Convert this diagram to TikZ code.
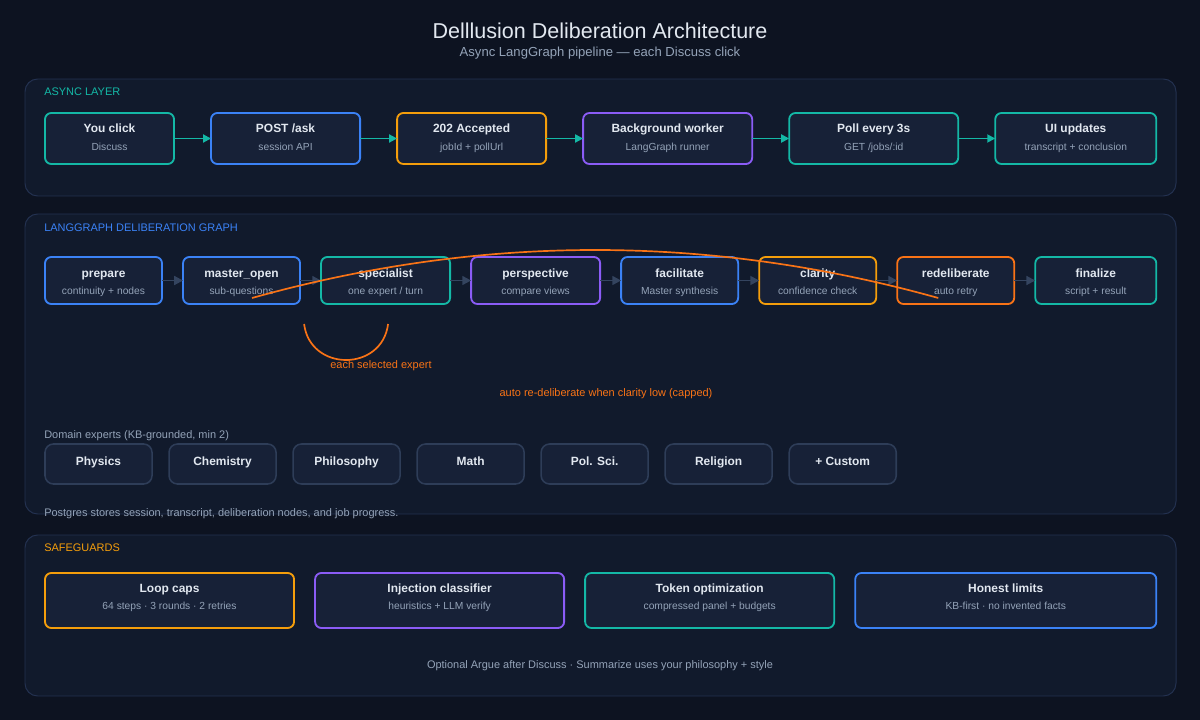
\documentclass[tikz,border=0pt]{standalone}
\usepackage{fontspec}
\setmainfont{Liberation Sans}
\setsansfont{Liberation Sans}
\usepackage{xcolor}
\usepackage{tikz}
\usetikzlibrary{arrows.meta,positioning,calc}

\definecolor{pagebg}{HTML}{0D1321}
\definecolor{panelbg}{HTML}{111A2C}
\definecolor{panelline}{HTML}{233150}
\definecolor{boxbg}{HTML}{172137}
\definecolor{textmain}{HTML}{E2E8F0}
\definecolor{textsub}{HTML}{94A3B8}
\definecolor{tealc}{HTML}{14B8A6}
\definecolor{bluec}{HTML}{3B82F6}
\definecolor{amberc}{HTML}{F59E0B}
\definecolor{purplec}{HTML}{8B5CF6}
\definecolor{orangec}{HTML}{F97316}
\definecolor{slatec}{HTML}{34445F}
\definecolor{expertline}{HTML}{2E3D58}

\tikzset{
  layerpanel/.style={draw=panelline, fill=panelbg, line width=0.7pt, rounded corners=9pt},
  layertitle/.style={anchor=west, inner sep=0pt, font=\fontsize{7.8}{9}\selectfont},
  stagebox/.style={rectangle, draw=#1, fill=boxbg, line width=1.3pt, rounded corners=4.5pt,
    align=center, inner sep=0pt, outer sep=0pt, text=textmain, font=\fontsize{8.5}{12.8}\selectfont},
  expertbox/.style={rectangle, draw=expertline, fill=boxbg, line width=1.1pt, rounded corners=6pt,
    minimum width=2.675cm, minimum height=1cm, inner sep=0pt, outer sep=0pt, text=textmain,
    text height=6pt, text depth=4pt, font=\fontsize{8.5}{10}\selectfont\bfseries},
  flowarrow/.style={-{Triangle[length=2mm,width=2mm]}, draw=tealc, line width=1.3pt},
  graphedge/.style={-{Triangle[length=2.2mm,width=2.2mm]}, draw=slatec, line width=1.4pt},
  loopline/.style={draw=orangec, line width=1.2pt},
  notetext/.style={inner sep=0pt, text=textsub, font=\fontsize{7.8}{9}\selectfont},
}
\newcommand{\stagetext}[2]{\textbf{#1}\\{\fontsize{7.3}{12.8}\selectfont\color{textsub}#2}}

\begin{document}
\begin{tikzpicture}[x=0.025cm, y=-0.025cm,
    asyncstage/.style={stagebox=#1, minimum height=1.275cm, text height=16.4pt, text depth=0pt},
    graphstage/.style={stagebox=#1, minimum height=1.175cm, font=\fontsize{8.5}{11.95}\selectfont,
      text height=19.3pt, text depth=0pt},
    guardbox/.style={stagebox=#1, minimum height=1.375cm, font=\fontsize{8.5}{11.95}\selectfont,
      text height=12.2pt, text depth=0pt}]

  \useasboundingbox (0,0) rectangle (1200,720);
  \fill[pagebg] (0,0) rectangle (1200,720);

  % Title
  \node[text=textmain, font=\fontsize{15.3}{18}\selectfont] (title) at (600,31) {Delllusion Deliberation Architecture};
  \node[text=textsub, font=\fontsize{9.3}{11}\selectfont] (subtitle) at (600,53) {Async LangGraph pipeline — each Discuss click};

  % Layer panels
  \path[layerpanel] (25,79) rectangle (1176,196);
  \path[layerpanel] (25,214) rectangle (1176,514);
  \path[layerpanel] (25,535) rectangle (1176,696);
  \node[layertitle, text=tealc] (asynclabel) at (44,92) {ASYNC LAYER};
  \node[layertitle, text=bluec] (graphlabel) at (44,228) {LANGGRAPH DELIBERATION GRAPH};
  \node[layertitle, text=amberc] (guardlabel) at (44,548) {SAFEGUARDS};

  % Async layer (left to right)
  \node[asyncstage=tealc, minimum width=3.225cm, anchor=west] (youclick) at (45,138.5) {\stagetext{You click}{Discuss}};
  \node[asyncstage=bluec, minimum width=3.725cm, right=0.925cm of youclick] (postask) {\stagetext{POST /ask}{session API}};
  \node[asyncstage=amberc, minimum width=3.725cm, right=0.925cm of postask] (accepted) {\stagetext{202 Accepted}{jobId + pollUrl}};
  \node[asyncstage=purplec, minimum width=4.225cm, right=0.925cm of accepted] (worker) {\stagetext{Background worker}{LangGraph runner}};
  \node[asyncstage=tealc, minimum width=4.225cm, right=0.925cm of worker] (poll) {\stagetext{Poll every 3s}{GET /jobs/:id}};
  \node[asyncstage=tealc, minimum width=4.025cm, right=0.925cm of poll] (uiupdate) {\stagetext{UI updates}{transcript + conclusion}};

  \draw[flowarrow] (youclick) -- (postask);
  \draw[flowarrow] (postask) -- (accepted);
  \draw[flowarrow] (accepted) -- (worker);
  \draw[flowarrow] (worker) -- (poll);
  \draw[flowarrow] (poll) -- (uiupdate);

  % Deliberation graph
  \node[graphstage=bluec, minimum width=2.925cm, anchor=west] (prepare) at (45,280.5) {\stagetext{prepare}{continuity + nodes}};
  \node[graphstage=bluec, minimum width=2.925cm, right=0.525cm of prepare] (masteropen) {\stagetext{master\_open}{sub-questions}};
  \node[graphstage=tealc, minimum width=3.225cm, right=0.525cm of masteropen] (specialist) {\stagetext{specialist}{one expert / turn}};
  \node[graphstage=purplec, minimum width=3.225cm, right=0.525cm of specialist] (perspective) {\stagetext{perspective}{compare views}};
  \node[graphstage=bluec, minimum width=2.925cm, right=0.525cm of perspective] (facilitate) {\stagetext{facilitate}{Master synthesis}};
  \node[graphstage=amberc, minimum width=2.925cm, right=0.525cm of facilitate] (clarity) {\stagetext{clarity}{confidence check}};
  \node[graphstage=orangec, minimum width=2.925cm, right=0.525cm of clarity] (redeliberate) {\stagetext{redeliberate}{auto retry}};
  \node[graphstage=tealc, minimum width=3.025cm, right=0.525cm of redeliberate] (finalize) {\stagetext{finalize}{script + result}};

  \draw[graphedge] (prepare) -- (masteropen);
  \draw[graphedge] (masteropen) -- (specialist);
  \draw[graphedge] (specialist) -- (perspective);
  \draw[graphedge] (perspective) -- (facilitate);
  \draw[graphedge] (facilitate) -- (clarity);
  \draw[graphedge] (clarity) -- (redeliberate);
  \draw[graphedge] (redeliberate) -- (finalize);

  % Loops
  \coordinate (loopstart) at ($(redeliberate.center)+(-17.5,17.5)$);
  \coordinate (loopend) at ($(masteropen.center)+(10.5,17.5)$);
  \draw[loopline] (loopstart) .. controls ($(loopstart)+(-229,-64)$) and ($(loopend)+(229,-64)$) .. (loopend);
  \coordinate (selfstart) at ($(specialist.center)+(-81.5,43.5)$);
  \coordinate (selfend) at ($(specialist.center)+(2.5,43.5)$);
  \draw[loopline] (selfstart) .. controls ($(selfstart)+(6,48)$) and ($(selfend)+(-6,48)$) .. (selfend);
  \node[inner sep=0pt, text=orangec, font=\fontsize{7.8}{9}\selectfont] (selflabel) at (381,366) {each selected expert};
  \node[inner sep=0pt, text=orangec, font=\fontsize{7.8}{9}\selectfont] (looplabel) at (606,394) {auto re-deliberate when clarity low (capped)};

  % Domain experts
  \node[notetext, anchor=west] (expertnote) at (44,436) {Domain experts (KB-grounded, min 2)};
  \node[expertbox, anchor=west] (physics) at (45,464) {Physics};
  \node[expertbox, right=0.425cm of physics] (chemistry) {Chemistry};
  \node[expertbox, right=0.425cm of chemistry] (philosophy) {Philosophy};
  \node[expertbox, right=0.425cm of philosophy] (math) {Math};
  \node[expertbox, right=0.425cm of math] (polsci) {Pol. Sci.};
  \node[expertbox, right=0.425cm of polsci] (religion) {Religion};
  \node[expertbox, right=0.425cm of religion] (custom) {+ Custom};
  \node[notetext, anchor=west] (storenote) at (44,514) {Postgres stores session, transcript, deliberation nodes, and job progress.};

  % Safeguards
  \node[guardbox=amberc, minimum width=6.225cm, anchor=west] (loopcaps) at (45,600.5) {\stagetext{Loop caps}{64 steps · 3 rounds · 2 retries}};
  \node[guardbox=purplec, minimum width=6.225cm, right=0.525cm of loopcaps] (injection) {\stagetext{Injection classifier}{heuristics + LLM verify}};
  \node[guardbox=tealc, minimum width=6.225cm, right=0.525cm of injection] (tokens) {\stagetext{Token optimization}{compressed panel + budgets}};
  \node[guardbox=bluec, minimum width=7.525cm, right=0.525cm of tokens] (honest) {\stagetext{Honest limits}{KB-first · no invented facts}};
  \node[notetext] (footnote) at (600,666) {Optional Argue after Discuss · Summarize uses your philosophy + style};

\end{tikzpicture}
\end{document}
